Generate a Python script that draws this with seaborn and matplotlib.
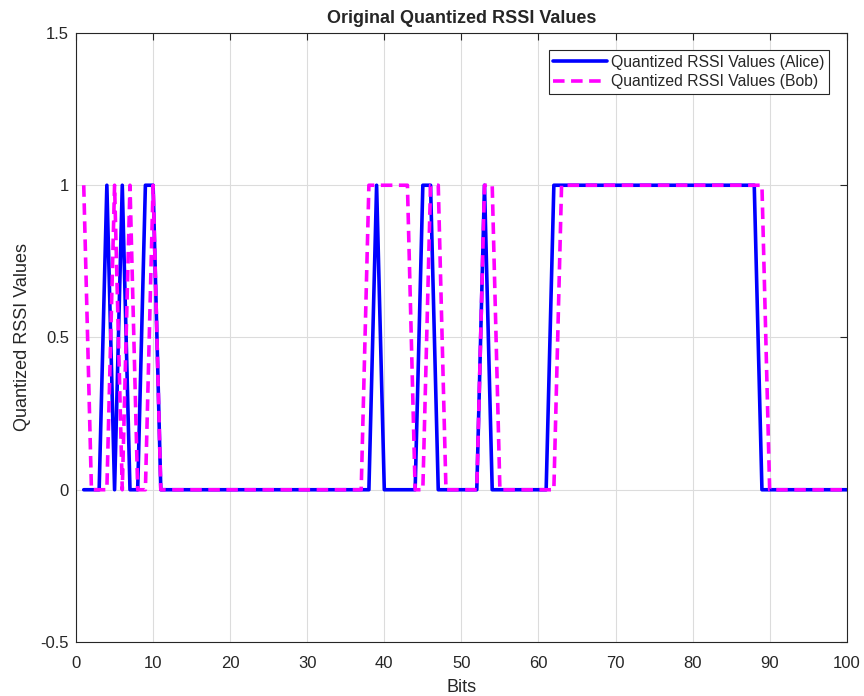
import numpy as np
import pandas as pd
import seaborn as sns
import matplotlib.pyplot as plt

# bit index 1..100
bits = list(range(1, 101))

# quantized RSSI, Alice
alice = [0, 0, 0, 1, 0, 1, 0, 0, 1, 1,
         0, 0, 0, 0, 0, 0, 0, 0, 0, 0,
         0, 0, 0, 0, 0, 0, 0, 0, 0, 0,
         0, 0, 0, 0, 0, 0, 0, 0, 1, 0,
         0, 0, 0, 0, 1, 1, 0, 0, 0, 0,
         0, 0, 1, 0, 0, 0, 0, 0, 0, 0,
         0, 1, 1, 1, 1, 1, 1, 1, 1, 1,
         1, 1, 1, 1, 1, 1, 1, 1, 1, 1,
         1, 1, 1, 1, 1, 1, 1, 1, 0, 0,
         0, 0, 0, 0, 0, 0, 0, 0, 0, 0]

# quantized RSSI, Bob
bob = [1, 0, 0, 0, 1, 0, 1, 0, 0, 1,
       0, 0, 0, 0, 0, 0, 0, 0, 0, 0,
       0, 0, 0, 0, 0, 0, 0, 0, 0, 0,
       0, 0, 0, 0, 0, 0, 0, 1, 1, 1,
       1, 1, 1, 0, 0, 1, 1, 0, 0, 0,
       0, 0, 1, 1, 0, 0, 0, 0, 0, 0,
       0, 0, 1, 1, 1, 1, 1, 1, 1, 1,
       1, 1, 1, 1, 1, 1, 1, 1, 1, 1,
       1, 1, 1, 1, 1, 1, 1, 1, 1, 0,
       0, 0, 0, 0, 0, 0, 0, 0, 0, 0]

x_ticks = [0, 10, 20, 30, 40, 50, 60, 70, 80, 90, 100]
y_ticks = [-0.5, 0, 0.5, 1, 1.5]
y_tick_labels = ['-0.5', '0', '0.5', '1', '1.5']

df = pd.DataFrame({'Bits': bits, 'Alice': alice, 'Bob': bob})

sns.set_style('white')
plt.rcParams['font.family'] = ['Liberation Sans', 'DejaVu Sans']

fig = plt.figure(figsize=(8.64, 6.96), dpi=100)
ax = fig.add_axes([0.088, 0.0776, 0.892, 0.875])

sns.lineplot(data=df, x='Bits', y='Alice', ax=ax, color='#0000FF', linewidth=2.6,
             estimator=None, label='Quantized RSSI Values (Alice)')
sns.lineplot(data=df, x='Bits', y='Bob', ax=ax, color='#FF00FF', linewidth=2.6,
             estimator=None, label='Quantized RSSI Values (Bob)')
ax.lines[1].set_dashes((3.2, 1.8))

ax.set_xlim(0, 100)
ax.set_ylim(-0.5, 1.5)
ax.set_xticks(x_ticks)
ax.set_yticks(y_ticks)
ax.set_yticklabels(y_tick_labels)
ax.grid(True, color='#dcdcdc', linewidth=0.8)
ax.set_axisbelow(True)

ax.tick_params(direction='in', length=5, width=0.8, colors='#262626',
               top=True, right=True, labelsize=12)
ax.tick_params(axis='x', pad=10)
ax.tick_params(axis='y', pad=5)
for s in ax.spines.values():
    s.set_color('#262626')
    s.set_linewidth(0.8)

ax.set_xlabel('Bits', fontsize=13, color='#262626', labelpad=6)
ax.set_ylabel('Quantized RSSI Values', fontsize=13, color='#262626', labelpad=7)
ax.set_title('Original Quantized RSSI Values', fontsize=13, fontweight='bold', pad=7)

leg = ax.legend(loc='upper right', fontsize=11.3, frameon=True, fancybox=False,
                framealpha=1, edgecolor='#262626', handlelength=3.4,
                handletextpad=0.3, labelspacing=0.28, borderpad=0.3,
                borderaxespad=1.1)
leg.get_frame().set_linewidth(0.8)

plt.savefig('out.png', dpi=100)
